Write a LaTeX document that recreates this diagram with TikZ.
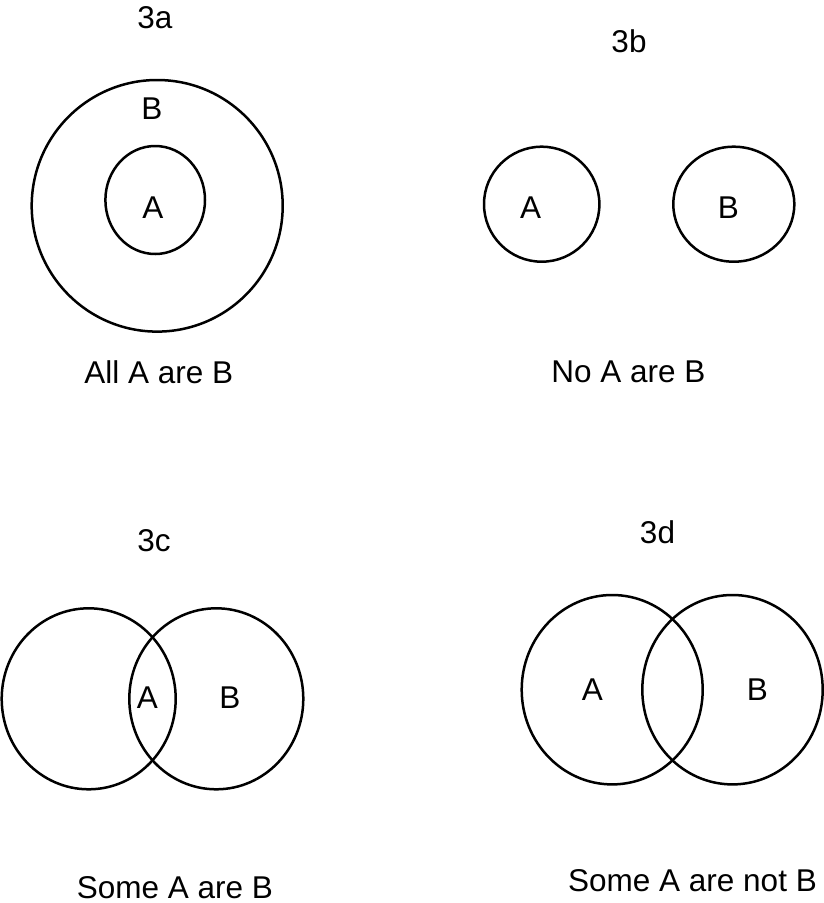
\documentclass[tikz,border=0pt]{standalone}
\usepackage{fontspec}
\setmainfont{Liberation Sans}
\begin{document}
\begin{tikzpicture}[x=1pt,y=-1pt,
  ring/.style={draw=black,line width=2.5pt},
  lbl/.style={anchor=base,inner sep=0pt,font=\fontsize{31.5}{36}\selectfont}]
\useasboundingbox (0,0) rectangle (823,903);
% 3a
\draw[ring] (157.2,205.8) ellipse [x radius=125.5,y radius=125.8];
\draw[ring] (155.2,200) ellipse [x radius=49.8,y radius=54];
\node[lbl] (t3a) at (155,28.3) {3a};
\node[lbl] (aB) at (152,119) {B};
\node[lbl] (aA) at (153,218.3) {A};
\node[lbl] (aCap) at (158.7,383.3) {All A are B};
% 3b
\draw[ring] (541.7,204.2) ellipse [x radius=57.7,y radius=57.5];
\draw[ring] (733.8,204.2) ellipse [x radius=60.5,y radius=57.5];
\node[lbl] (t3b) at (629,52) {3b};
\node[lbl] (bA) at (530.7,218.3) {A};
\node[lbl] (bB) at (728.3,218.3) {B};
\node[lbl] (bCap) at (628.3,382.7) {No A are B};
% 3c
\draw[ring] (88.7,698.8) ellipse [x radius=87,y radius=90.5];
\draw[ring] (216.3,698.8) ellipse [x radius=87,y radius=90.5];
\node[lbl] (t3c) at (154,551.7) {3c};
\node[lbl] (cA) at (147.3,708.3) {A};
\node[lbl] (cB) at (230,708.3) {B};
\node[lbl] (cCap) at (175,898) {Some A are B};
% 3d
\draw[ring] (612.2,689.7) ellipse [x radius=90.5,y radius=94.7];
\draw[ring] (732.5,689.7) ellipse [x radius=90.2,y radius=94.7];
\node[lbl] (t3d) at (657.5,543.3) {3d};
\node[lbl] (dA) at (592.3,700) {A};
\node[lbl] (dB) at (757.3,700) {B};
\node[lbl] (dCap) at (692.5,891) {Some A are not B};
\end{tikzpicture}
\end{document}
